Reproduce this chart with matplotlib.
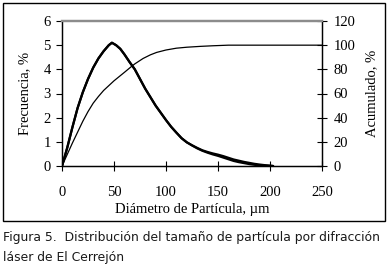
import matplotlib
matplotlib.use("Agg")
import matplotlib.pyplot as plt
from matplotlib.patches import Rectangle

# Data
x_freq = [0, 5, 10, 15, 20, 25, 30, 35, 40, 45, 48, 52, 56, 60, 65, 70, 75, 80, 85, 90,
          95, 100, 105, 110, 115, 120, 125, 130, 135, 140, 145, 150, 155, 160, 165, 170,
          175, 180, 185, 190, 195, 200, 203]
freq_a = [0, 0.75, 1.6, 2.4, 3.05, 3.6, 4.07, 4.45, 4.75, 5.0, 5.1, 5.0, 4.85, 4.62, 4.3,
          4.0, 3.6, 3.2, 2.85, 2.5, 2.2, 1.9, 1.62, 1.38, 1.15, 0.98, 0.86, 0.75, 0.65,
          0.58, 0.52, 0.47, 0.41, 0.34, 0.27, 0.22, 0.17, 0.13, 0.09, 0.06, 0.035, 0.015, 0]
freq_b = [0, 0.75, 1.6, 2.4, 3.05, 3.6, 4.07, 4.45, 4.75, 5.0, 5.1, 5.0, 4.85, 4.62, 4.3,
          4.0, 3.6, 3.2, 2.85, 2.5, 2.2, 1.9, 1.62, 1.38, 1.15, 0.98, 0.85, 0.73, 0.63,
          0.55, 0.48, 0.42, 0.35, 0.28, 0.21, 0.16, 0.12, 0.08, 0.05, 0.03, 0.015, 0.005, 0]
x_cum = [0, 5, 10, 15, 20, 25, 30, 35, 40, 45, 50, 55, 60, 67, 70, 78, 85, 91, 100, 110,
         120, 133, 145, 160, 180, 200, 250]
cum = [0, 9.5, 19, 28, 37, 45, 52, 57.5, 62.5, 66.5, 70.5, 74, 77.5, 82.5, 84.5, 89, 92,
       94, 96, 97.5, 98.3, 99, 99.5, 100, 100, 100, 100]

x_ticks = [0, 50, 100, 150, 200, 250]
y_ticks = [0, 1, 2, 3, 4, 5, 6]
y2_ticks = [0, 20, 40, 60, 80, 100, 120]

W, H = 390, 275
fig = plt.figure(figsize=(W / 100, H / 100), dpi=100)
serif = "Liberation Serif"

ax = fig.add_axes([62 / W, (H - 166) / H, 260 / W, 145 / H])
ax.plot(x_freq, freq_a, color="black", lw=1.6, solid_capstyle="round")
ax.plot(x_freq, freq_b, color="black", lw=1.6, solid_capstyle="round")
ax.set_xlim(0, 250)
ax.set_ylim(0, 6)
ax.set_xticks(x_ticks)
ax.set_yticks(y_ticks)
ax.tick_params(axis="y", direction="out", length=4, width=0.8, labelsize=10.5, pad=4)
ax.tick_params(axis="x", direction="inout", length=7, width=0.8, labelsize=10.5, pad=11)
for lab in ax.get_xticklabels() + ax.get_yticklabels():
    lab.set_fontfamily(serif)
ax.set_xlabel("Diámetro de Partícula, µm", fontfamily=serif, fontsize=10.5, labelpad=3)
ax.set_ylabel("Frecuencia, %", fontfamily=serif, fontsize=10.5, labelpad=9)

ax2 = ax.twinx()
ax2.plot(x_cum, cum, color="black", lw=0.9)
ax2.set_ylim(0, 120)
ax2.set_yticks(y2_ticks)
ax2.tick_params(axis="y", direction="inout", length=7, width=0.8, labelsize=10.5, pad=5)
for lab in ax2.get_yticklabels():
    lab.set_fontfamily(serif)
ax2.set_ylabel("Acumulado, %", fontfamily=serif, fontsize=10.5, labelpad=7)

for a in (ax, ax2):
    a.spines["top"].set_color("#8c8c8c")
    a.spines["top"].set_linewidth(1.6)
    for s in ("left", "right", "bottom"):
        a.spines[s].set_color("black")
        a.spines[s].set_linewidth(0.9)

fig.patches.append(Rectangle((3 / W, (H - 221) / H), 382 / W, 218 / H,
                             transform=fig.transFigure, fill=False,
                             edgecolor="black", linewidth=1.0))

fig.text(3 / W, (H - 238) / H,
         "Figura 5.  Distribución del tamaño de partícula por difracción",
         fontsize=8.9, family="DejaVu Sans", va="center", ha="left", color="#1a1a1a")
fig.text(3 / W, (H - 257) / H, "láser de El Cerrejón",
         fontsize=8.9, family="DejaVu Sans", va="center", ha="left", color="#1a1a1a")

fig.savefig("out.png", dpi=100)
